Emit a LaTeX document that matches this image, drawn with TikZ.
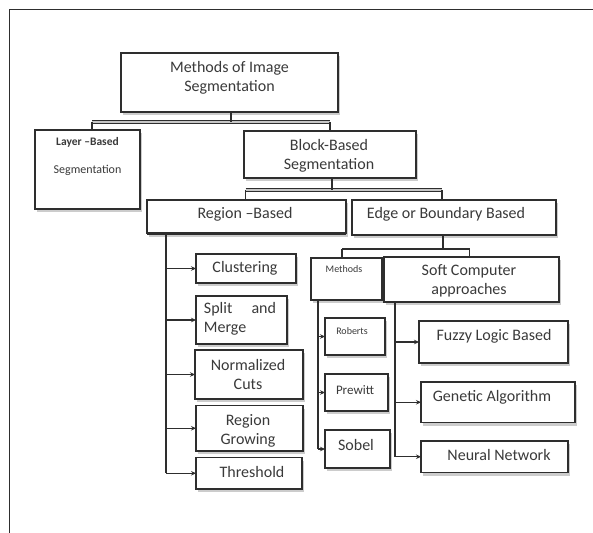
\documentclass[tikz,border=0pt]{standalone}
\usepackage{fontspec}
\setmainfont{Carlito}
\usetikzlibrary{arrows.meta,shadows}
\definecolor{ink}{HTML}{2E2E2E}
\definecolor{txtc}{HTML}{3A3A3A}
\tikzset{
  box/.style={draw=ink, line width=1.1pt, fill=white, inner sep=0pt, outer sep=0pt, anchor=north west,
    drop shadow={shadow xshift=1.5pt, shadow yshift=-3pt, fill=gray, opacity=0.4}},
  txt/.style={text=txtc, align=center, inner sep=0pt, font=\fontsize{16}{19}\selectfont},
  smalltxt/.style={text=txtc, align=center, inner sep=0pt, font=\fontsize{10}{12}\selectfont},
  conn/.style={draw=ink, line width=1.1pt},
  arr/.style={conn, -{Stealth[length=5pt,width=4.5pt]}},
  bar/.style={draw=ink, line width=1.1pt, double=gray!45, double distance=2pt},
}
\newcommand\mybox[6]{\node[box,#6, minimum width={(#4-#2)*1pt}, minimum height={(#5-#3)*1pt}] (#1) at (#2,#3) {};}
\begin{document}
\begin{tikzpicture}[x=1pt,y=-1pt]
\useasboundingbox (0,0) rectangle (593,532);
\fill[white] (0,0) rectangle (593,532);
\draw[ink, line width=1pt] (9.5,9.5) rectangle (640,580);

% boxes
\mybox{root}{121}{53}{338}{112}{}
\mybox{layer}{35}{130}{140}{209}{}
\mybox{block}{244}{131}{416}{178}{}
\mybox{region}{147}{200}{346}{233.5}{}
\mybox{edge}{352}{200}{556}{235}{}
\mybox{clus}{196}{254}{296}{283}{}
\mybox{split}{196}{296}{287}{344}{}
\mybox{norm}{195}{350}{303}{399}{}
\mybox{grow}{196}{405.5}{303}{451}{}
\mybox{thresh}{196}{457.5}{302}{489}{}
\mybox{meth}{311}{258}{382}{300}{}
\mybox{soft}{384}{257}{559}{302}{}
\mybox{rob}{325}{318}{385}{355}{}
\mybox{prew}{325}{374}{388}{411}{}
\mybox{sob}{325}{430}{390}{468}{}
\mybox{fuzzy}{419}{321}{568}{363}{}
\mybox{gen}{421}{382}{575}{422.5}{}
\mybox{neural}{421}{441}{568}{472.5}{}

% heavier edges
\draw[ink, line width=2.2pt] (block.south west) -- (block.south east);
\draw[ink, line width=2.2pt] (region.south west) -- (region.south east);
\draw[ink, line width=2pt] (prew.north west) -- (prew.north east);
\draw[ink, line width=2pt] (prew.south west) -- (prew.south east);

% texts
\node[txt] (root-t) at (229.5,78) {Methods of Image\\Segmentation};
\node[txt, font=\bfseries\fontsize{11.5}{13}\selectfont] (layer-t1) at (87.5,142.5) {Layer --Based};
\node[txt, font=\fontsize{12}{14}\selectfont] (layer-t2) at (87.5,170) {Segmentation};
\node[txt] (block-t) at (329,155.5) {Block-Based\\Segmentation};
\node[txt] (region-t) at (245,214.5) {Region --Based};
\node[txt] (edge-t) at (446,214) {Edge or Boundary Based};
\node[txt] (clus-t) at (245,268) {Clustering};
\node[txt, align=left] (split-t) at (240,319) {Split\hspace{1.2em}and\\Merge};
\node[txt] (norm-t) at (248,374.5) {Normalized\\Cuts};
\node[txt] (grow-t) at (248,430.5) {Region\\Growing};
\node[txt] (thresh-t) at (252,472) {Threshold};
\node[smalltxt] (meth-t) at (344,269) {Methods};
\node[txt] (soft-t) at (469,281) {Soft Computer\\approaches};
\node[smalltxt] (rob-t) at (352,331) {Roberts};
\node[txt, font=\fontsize{13}{15}\selectfont] (prew-t) at (355,390) {Prewitt};
\node[txt] (sob-t) at (356,445) {Sobel};
\node[txt] (fuzzy-t) at (494,336) {Fuzzy Logic Based};
\node[txt] (gen-t) at (492,397) {Genetic Algorithm};
\node[txt] (neural-t) at (499,455) {Neural Network};

% connector levels
\coordinate (lv1) at (0,122);
\coordinate (lv2) at (0,190);
\coordinate (lv3) at (0,249);
\coordinate (spR) at (166,0);
\coordinate (spM) at (318,0);
\coordinate (spS) at (395,0);

\draw[bar] ([xshift=4.5pt]layer.north |- lv1) -- (block.north |- lv1);
\draw[conn] ([xshift=1.5pt]root.south) -- ([xshift=1.5pt]root.south |- lv1);
\draw[conn] ([xshift=4.5pt]layer.north |- lv1) -- ([xshift=4.5pt]layer.north);
\draw[conn] (block.north |- lv1) -- (block.north);

\draw[bar] ([xshift=-1pt]region.north |- lv2) -- ([xshift=-12pt]edge.north |- lv2);
\draw[conn] ([xshift=2pt]block.south) -- ([xshift=2pt]block.south |- lv2);
\draw[conn] ([xshift=-1pt]region.north |- lv2) -- ([xshift=-1pt]region.north);
\draw[conn] ([xshift=-12pt]edge.north |- lv2) -- ([xshift=-12pt]edge.north);

\draw[conn] ([xshift=-11pt]edge.south) -- ([xshift=-11pt]edge.south |- lv3);
\draw[conn] ([xshift=-4.5pt]meth.north |- lv3) -- ([xshift=-2pt]soft.north |- lv3);
\draw[conn] ([xshift=-4.5pt]meth.north |- lv3) -- ([xshift=-4.5pt]meth.north);
\draw[conn] ([xshift=-2pt]soft.north |- lv3) -- ([xshift=-2pt]soft.north);

% region spine
\draw[conn] (spR |- region.south) -- (spR |- thresh.west);
\foreach \n in {clus,split,norm,grow,thresh}
  \draw[arr] (spR |- \n.west) -- (\n.west);
% methods spine
\draw[conn] (spM |- meth.south) -- (spM |- sob.west);
\foreach \n in {rob,prew,sob}
  \draw[arr] (spM |- \n.west) -- (\n.west);
% soft spine
\draw[conn] (spS |- soft.south) -- (spS |- neural.west);
\foreach \n in {fuzzy,gen,neural}
  \draw[arr] (spS |- \n.west) -- (\n.west);
\end{tikzpicture}
\end{document}
